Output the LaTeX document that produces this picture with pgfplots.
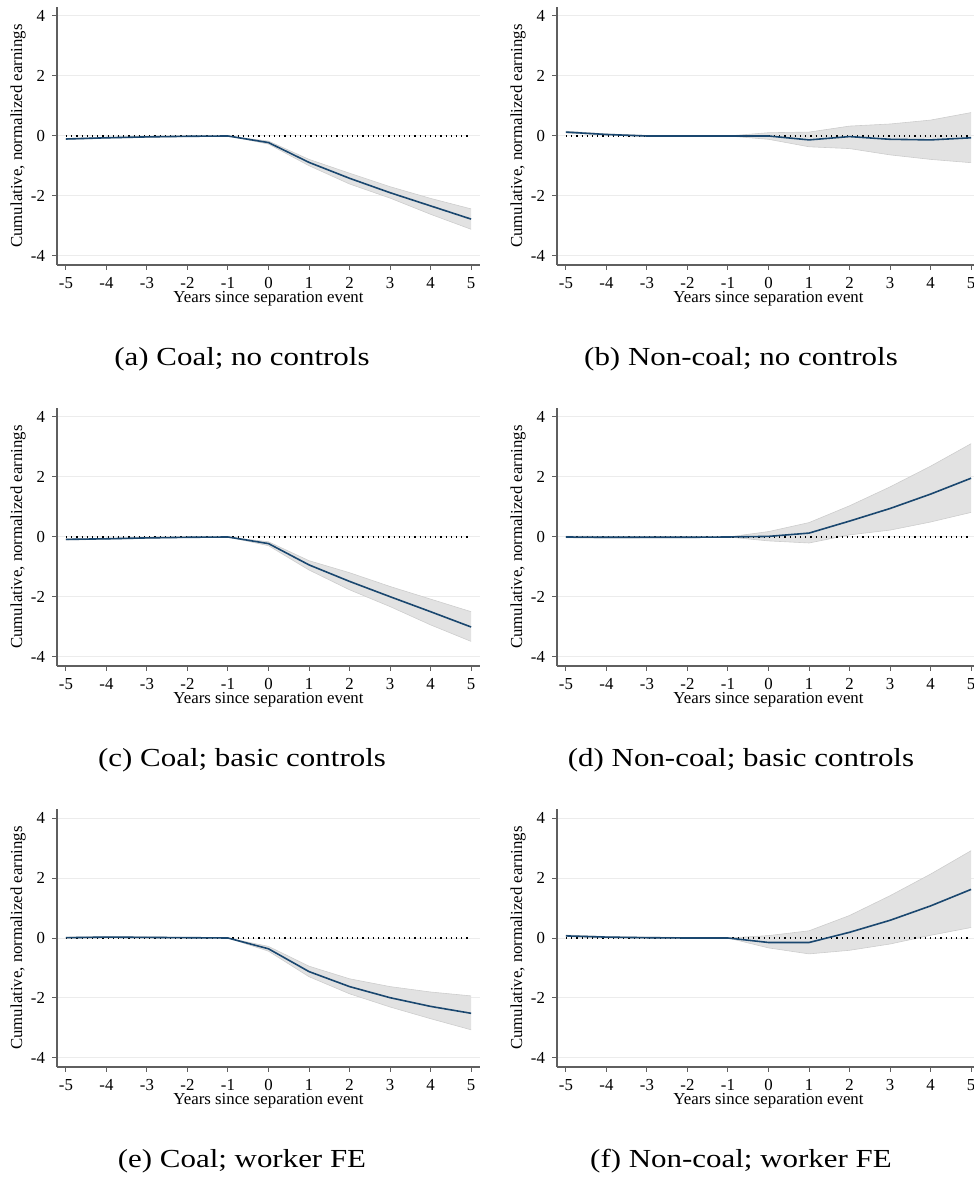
\documentclass[border=0pt]{standalone}
\usepackage{fontspec}
\setmainfont{Liberation Serif}
\newfontfamily\capfont[FakeStretch=1.19]{Liberation Serif}
\usepackage{pgfplots}
\pgfplotsset{compat=1.18}
\usepackage{pgfplotstable}
\usepgfplotslibrary{fillbetween}

\definecolor{statablue}{RGB}{26,71,111}
\definecolor{bandgray}{RGB}{226,226,226}
\definecolor{bandedge}{RGB}{205,205,205}
\definecolor{gridgray}{RGB}{236,236,236}
\definecolor{axgray}{RGB}{95,95,95}

\pgfplotstableread{
x b lo hi
-5 -0.10 -0.12 -0.08
-4 -0.06 -0.08 -0.04
-3 -0.03 -0.05 -0.02
-2 -0.01 -0.02 0.00
-1 0 0 0
0 -0.22 -0.27 -0.17
1 -0.88 -0.99 -0.78
2 -1.41 -1.60 -1.24
3 -1.89 -2.07 -1.69
4 -2.33 -2.61 -2.08
5 -2.77 -3.11 -2.43
}\tabA
\pgfplotstableread{
x b lo hi
-5 0.13 0.10 0.16
-4 0.05 0.03 0.07
-3 0.00 -0.02 0.02
-2 0.00 -0.02 0.02
-1 0 0 0
0 0.00 -0.11 0.11
1 -0.13 -0.36 0.13
2 -0.02 -0.42 0.33
3 -0.11 -0.63 0.40
4 -0.13 -0.78 0.53
5 -0.06 -0.89 0.78
}\tabB
\pgfplotstableread{
x b lo hi
-5 -0.08 -0.10 -0.06
-4 -0.06 -0.08 -0.04
-3 -0.03 -0.05 -0.02
-2 -0.01 -0.02 0.00
-1 0 0 0
0 -0.22 -0.29 -0.16
1 -0.93 -1.10 -0.79
2 -1.48 -1.76 -1.19
3 -1.99 -2.32 -1.65
4 -2.49 -2.93 -2.07
5 -3.00 -3.48 -2.49
}\tabC
\pgfplotstableread{
x b lo hi
-5 0.00 -0.03 0.03
-4 -0.01 -0.04 0.02
-3 -0.01 -0.03 0.02
-2 -0.01 -0.03 0.01
-1 0 0 0
0 0.02 -0.13 0.18
1 0.13 -0.20 0.48
2 0.53 0.07 1.04
3 0.95 0.23 1.67
4 1.43 0.50 2.36
5 1.96 0.82 3.11
}\tabD
\pgfplotstableread{
x b lo hi
-5 0.01 -0.01 0.03
-4 0.03 0.01 0.05
-3 0.02 0.00 0.04
-2 0.01 0.00 0.02
-1 0 0 0
0 -0.36 -0.44 -0.28
1 -1.12 -1.29 -0.94
2 -1.62 -1.86 -1.36
3 -1.99 -2.30 -1.62
4 -2.28 -2.69 -1.80
5 -2.51 -3.06 -1.93
}\tabE
\pgfplotstableread{
x b lo hi
-5 0.07 0.04 0.10
-4 0.03 0.01 0.05
-3 0.01 -0.01 0.03
-2 0.00 -0.02 0.02
-1 0 0 0
0 -0.15 -0.33 0.08
1 -0.15 -0.53 0.24
2 0.19 -0.41 0.75
3 0.59 -0.20 1.41
4 1.07 0.09 2.13
5 1.62 0.35 2.91
}\tabF

\pgfplotsset{
  panel/.style={
    scale only axis, width=211.5pt, height=129pt,
    xmin=-5.22, xmax=5.22, ymin=-4.3, ymax=4.3,
    axis x line*=bottom, axis y line*=left,
    axis line style={axgray, line width=0.6pt, -},
    xtick={-5,-4,...,5}, ytick={-4,-2,0,2,4},
    tick align=outside, major tick length=2.5pt,
    tick style={axgray, line width=0.5pt},
    ymajorgrids, grid style={gridgray, line width=0.5pt},
    ticklabel style={font=\fontsize{8.4}{10}\selectfont},
    /pgf/number format/assume math mode=true,
    xlabel={Years since separation event},
    ylabel={Cumulative, normalized earnings},
    label style={font=\fontsize{8.4}{10}\selectfont},
    xlabel style={at={(axis description cs:0.5,-0.132)}, anchor=center},
    ylabel style={at={(axis description cs:-0.092,0.5)}, anchor=center},
  },
}

\newcommand{\drawpanel}[1]{%
  \addplot[name path=hi, bandedge, line width=0.3pt, forget plot] table[x=x,y=hi]{#1};
  \addplot[name path=lo, bandedge, line width=0.3pt, forget plot] table[x=x,y=lo]{#1};
  \addplot[bandgray, forget plot] fill between[of=hi and lo];
  \addplot[black, dotted, line width=0.6pt, forget plot] coordinates {(-5,0) (5,0)};
  \addplot[statablue, line width=0.8pt, forget plot] table[x=x,y=b]{#1};
}

\begin{document}
\begin{tikzpicture}

\begin{axis}[panel, at={(28.5pt,456.5pt)}, anchor=south west]
\drawpanel{\tabA}
\end{axis}
\begin{axis}[panel, at={(278.5pt,456.5pt)}, anchor=south west]
\drawpanel{\tabB}
\end{axis}
\begin{axis}[panel, at={(28.5pt,256pt)}, anchor=south west]
\drawpanel{\tabC}
\end{axis}
\begin{axis}[panel, at={(278.5pt,256pt)}, anchor=south west]
\drawpanel{\tabD}
\end{axis}
\begin{axis}[panel, at={(28.5pt,55.5pt)}, anchor=south west]
\drawpanel{\tabE}
\end{axis}
\begin{axis}[panel, at={(278.5pt,55.5pt)}, anchor=south west]
\drawpanel{\tabF}
\end{axis}

\node[font=\capfont\fontsize{13}{15}\selectfont] at (121pt,409.5pt) {(a) Coal; no controls};
\node[font=\capfont\fontsize{13}{15}\selectfont] at (370.5pt,409.5pt) {(b) Non-coal; no controls};
\node[font=\capfont\fontsize{13}{15}\selectfont] at (121pt,209pt) {(c) Coal; basic controls};
\node[font=\capfont\fontsize{13}{15}\selectfont] at (370.5pt,209pt) {(d) Non-coal; basic controls};
\node[font=\capfont\fontsize{13}{15}\selectfont] at (121pt,8.5pt) {(e) Coal; worker FE};
\node[font=\capfont\fontsize{13}{15}\selectfont] at (370.5pt,8.5pt) {(f) Non-coal; worker FE};

\pgfresetboundingbox
\path[use as bounding box] (0,0) rectangle (487pt,589pt);
\end{tikzpicture}
\end{document}
